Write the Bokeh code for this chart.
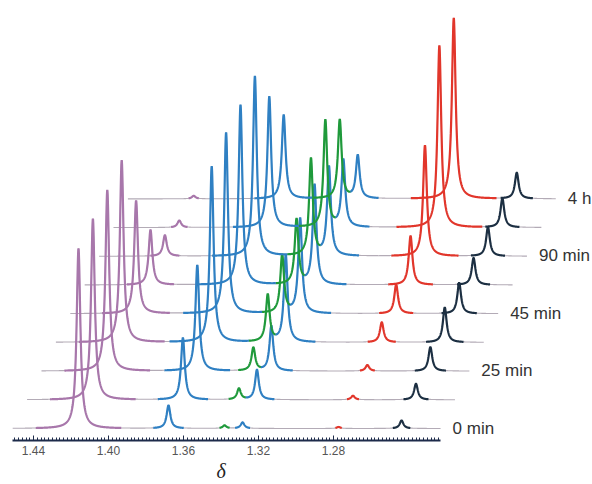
import numpy as np
from bokeh.plotting import figure
from bokeh.models import Range1d, LinearAxis, FixedTicker, ColumnDataSource, PrintfTickFormatter, Title
from bokeh.embed import file_html
from bokeh.resources import INLINE
from bokeh.core.properties import value

# chemical shifts (ppm) of each signal in the bottom (0 min) spectrum
signal_shifts = [1.4160, 1.3680, 1.3381, 1.3285, 1.2773, 1.2437]
signal_colors = ["#a877ab", "#2f80c3", "#1f9a3b", "#2f80c3", "#e2362b", "#1c2f42"]

# peak heights per spectrum, bottom (0 min) to top (4 h)
h_purple = [180, 181, 181, 182, 113, 55, 21, 7, 3]
h_blueA = [23, 62, 106, 176, 181, 180, 180, 131, 84]
h_green = [3, 11, 23, 47, 58, 65, 97, 107, 79]
h_blueB = [6, 30, 45, 87, 95, 100, 89, 67, 43]
h_red = [1.5, 4, 6, 20, 29, 49, 111, 182, 181]
h_black = [8, 16, 24, 35, 31, 27, 29, 29, 26]
heights = [h_purple, h_blueA, h_green, h_blueB, h_red, h_black]

time_labels = ["0 min", "25 min", "45 min", "90 min", "4 h"]
label_traces = [0, 2, 4, 6, 8]

axis_ticks = [1.44, 1.40, 1.36, 1.32, 1.28]
ppm_lo, ppm_hi = 1.2229, 1.4512

# styling / stacking
dx = 0.00768      # horizontal shift per spectrum (ppm)
dy = 28.7         # vertical shift per spectrum
gamma = 0.0012    # half width of lines (ppm)
base_color = "#b3abb6"

p = figure(frame_width=592, frame_height=440,
           x_range=Range1d(1.4576, 1.14187), y_range=Range1d(-12, 428),
           x_axis_type=None, y_axis_type=None,
           output_backend="svg", toolbar_location=None,
           min_border=0, outline_line_color=None)

grid = np.arange(ppm_lo, ppm_hi, 0.0001)
n_tr = len(h_purple)
bx, by = [], []
cxs, cys, ccol = [], [], []
for k in range(n_tr):
    contrib = np.array([heights[s][k] * gamma**2 / (gamma**2 + (grid - signal_shifts[s])**2)
                        for s in range(len(signal_shifts))])
    total = contrib.sum(axis=0)
    xs = grid - k * dx
    ys = k * dy + total
    bx.append(xs)
    by.append(ys)
    dom = contrib.argmax(axis=0)
    domv = contrib.max(axis=0)
    cls = np.where(domv > 0.5, dom, -1)
    i = 0
    N = len(grid)
    while i < N:
        j = i
        while j + 1 < N and cls[j + 1] == cls[i]:
            j += 1
        if cls[i] >= 0:
            a, b = max(i - 1, 0), min(j + 2, N)
            cxs.append(xs[a:b])
            cys.append(ys[a:b])
            ccol.append(signal_colors[cls[i]])
        i = j + 1

p.multi_line(xs=bx, ys=by, line_color=base_color, line_width=1.1)
p.multi_line(xs=cxs, ys=cys, line_color=ccol, line_width=2.2)

lab_src = ColumnDataSource(dict(
    x=[ppm_lo - k * dx - 0.0064 for k in label_traces],
    y=[k * dy + 0.5 for k in label_traces],
    t=time_labels))
p.text(x="x", y="y", text="t", source=lab_src, text_font=value("Liberation Sans"),
       text_font_size=value("17px"), text_baseline="middle", text_align="left",
       text_color="#333333")

minor = [round(v, 3) for v in np.arange(1.224, 1.4505, 0.002)]
ax = LinearAxis(bounds=(ppm_lo, ppm_hi),
                ticker=FixedTicker(ticks=axis_ticks, minor_ticks=minor),
                formatter=PrintfTickFormatter(format="%.2f"))
ax.major_label_text_font = "Liberation Sans"
ax.major_label_text_font_size = "12px"
ax.major_label_text_color = "#555555"
ax.major_label_standoff = 5
ax.axis_line_width = 2.2
ax.axis_line_color = "#1d2b4a"
ax.major_tick_line_color = "#1d2b4a"
ax.minor_tick_line_color = "#1d2b4a"
ax.major_tick_in = 5
ax.major_tick_out = 0
ax.minor_tick_in = 3
ax.minor_tick_out = 0
p.add_layout(ax, "below")

delta_title = Title(text="δ", align="left", offset=216, standoff=0,
                    text_font="Liberation Serif", text_font_style="italic",
                    text_font_size="20px", text_color="#222222")
p.add_layout(delta_title, "below")

open("out.html", "w").write(file_html(p, INLINE))
